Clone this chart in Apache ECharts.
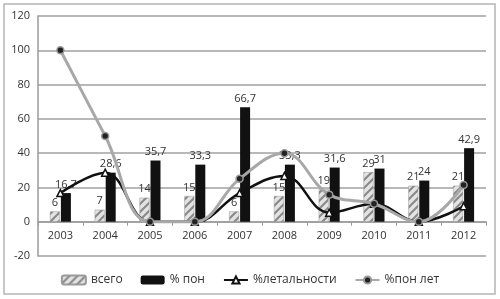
<!DOCTYPE html>
<html>
<head>
<meta charset="utf-8">
<script src="https://cdn.jsdelivr.net/npm/echarts@6/dist/echarts.min.js"></script>
<style>
  html, body { margin: 0; padding: 0; background: #fff; }
  #chart { width: 500px; height: 299px; }
</style>
</head>
<body>
<div id="chart"></div>
<script>
const years = ['2003', '2004', '2005', '2006', '2007', '2008', '2009', '2010', '2011', '2012'];
const total = [6, 7, 14, 15, 6, 15, 19, 29, 21, 21];
const ponPct = [16.7, 28.6, 35.7, 33.3, 66.7, 33.3, 31.6, 31, 24, 42.9];
const lethality = [16.7, 28.6, 0, 0, 16.7, 26.7, 5.3, 10.5, 0, 9];
const ponLet = [100, 50, 0, 0, 25, 40, 15.8, 10.5, 0, 21.4];
const yTicks = { min: -20, max: 120, step: 20 };

// hatched fill for the "всего" bars
function hatch() {
  const c = document.createElement('canvas');
  c.width = 8; c.height = 8;
  const g = c.getContext('2d');
  g.fillStyle = '#e4e4e4';
  g.fillRect(0, 0, 8, 8);
  g.strokeStyle = '#8a8a8a';
  g.lineWidth = 2.2;
  g.beginPath();
  g.moveTo(-2, 10); g.lineTo(10, -2);
  g.moveTo(-6, 6); g.lineTo(6, -6);
  g.moveTo(2, 14); g.lineTo(14, 2);
  g.stroke();
  return c;
}

const chart = echarts.init(document.getElementById('chart'));
const font = 'Open Sans, Liberation Sans, sans-serif';
const gridTop = 16, gridBottom = 43, plotH = 299 - gridTop - gridBottom;
// shift the category axis up from the -20 edge to the zero line
const zeroShift = plotH * (0 - yTicks.min) / (yTicks.max - yTicks.min);

chart.setOption({
  backgroundColor: '#fff',
  animation: false,
  textStyle: { fontFamily: font },
  graphic: [{
    type: 'rect',
    shape: { x: 4, y: 4, width: 491, height: 290 },
    style: { fill: 'none', stroke: '#b5b5b5', lineWidth: 1.5 },
    silent: true,
  }],
  grid: { left: 38, right: 14, top: gridTop, bottom: gridBottom },
  legend: {
    bottom: 8,
    left: 'center',
    itemGap: 18,
    itemWidth: 24,
    itemHeight: 9,
    textStyle: { color: '#333', fontSize: 12, fontFamily: font },
    data: ['всего', '% пон', '%летальности', '%пон лет'],
  },
  xAxis: {
    type: 'category',
    data: years,
    offset: -zeroShift,
    axisLine: { onZero: false, lineStyle: { color: '#9a9a9a', width: 1.5 } },
    axisTick: { show: true, lineStyle: { color: '#9a9a9a' }, length: 4 },
    axisLabel: { color: '#333', fontSize: 11, margin: 9 },
  },
  yAxis: {
    type: 'value',
    min: yTicks.min,
    max: yTicks.max,
    interval: yTicks.step,
    axisLine: { show: true, lineStyle: { color: '#9a9a9a', width: 1.5 } },
    axisTick: { show: false },
    axisLabel: { color: '#333', fontSize: 11, margin: 8 },
    splitLine: { lineStyle: { color: '#a0a0a0', width: 1.5 } },
  },
  series: [
    {
      name: 'всего',
      type: 'bar',
      data: total,
      barWidth: 10,
      barGap: '10%',
      itemStyle: { color: { image: hatch(), repeat: 'repeat' }, borderColor: '#999', borderWidth: 0.5 },
      label: { show: true, position: 'top', color: '#333', fontSize: 11, distance: 3 },
    },
    {
      name: '% пон',
      type: 'bar',
      data: ponPct,
      barWidth: 10,
      itemStyle: { color: '#111' },
      label: {
        show: true, position: 'top', color: '#333', fontSize: 11, distance: 3,
        formatter: (p) => String(p.value).replace('.', ','),
      },
    },
    {
      name: '%летальности',
      type: 'line',
      data: lethality,
      smooth: 0.4,
      symbol: 'triangle',
      symbolSize: 7,
      lineStyle: { color: '#111', width: 2.5 },
      itemStyle: { color: '#fff', borderColor: '#111', borderWidth: 1.5 },
      z: 4,
    },
    {
      name: '%пон лет',
      type: 'line',
      data: ponLet,
      smooth: 0.4,
      symbol: 'circle',
      symbolSize: 7,
      lineStyle: { color: '#a8a8a8', width: 3 },
      itemStyle: { color: '#222', borderColor: '#999', borderWidth: 1.5 },
      z: 5,
    },
  ],
});
</script>
</body>
</html>
